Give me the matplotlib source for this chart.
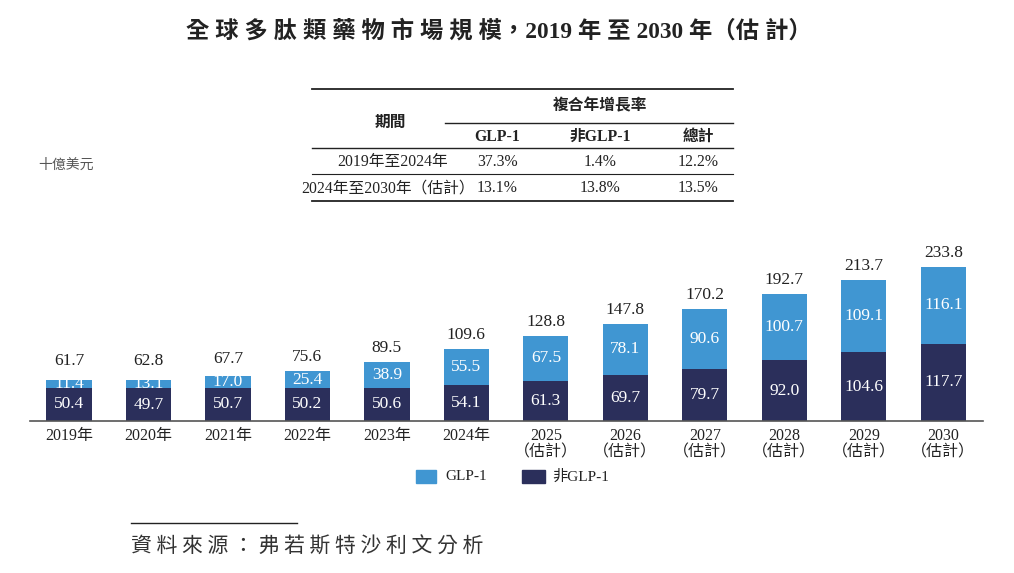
import matplotlib
matplotlib.use("Agg")
import matplotlib.pyplot as plt
from matplotlib.patches import Rectangle
from matplotlib.lines import Line2D
from matplotlib.transforms import offset_copy

years = ["2019年", "2020年", "2021年", "2022年", "2023年", "2024年",
         "2025\n（估計）", "2026\n（估計）", "2027\n（估計）", "2028\n（估計）",
         "2029\n（估計）", "2030\n（估計）"]
non_glp1 = [50.4, 49.7, 50.7, 50.2, 50.6, 54.1, 61.3, 69.7, 79.7, 92.0, 104.6, 117.7]
glp1 = [11.4, 13.1, 17.0, 25.4, 38.9, 55.5, 67.5, 78.1, 90.6, 100.7, 109.1, 116.1]
totals = [61.7, 62.8, 67.7, 75.6, 89.5, 109.6, 128.8, 147.8, 170.2, 192.7, 213.7, 233.8]

table_rows = ["2019年至2024年", "2024年至2030年（估計）"]
table_cols = ["GLP-1", "非GLP-1", "總計"]
table_vals = [["37.3%", "1.4%", "12.2%"], ["13.1%", "13.8%", "13.5%"]]

C_GLP = "#4096d2"
C_NON = "#2b2f5b"
SERIF = ["Liberation Serif", "Noto Sans CJK TC"]
CJK = ["Noto Sans CJK TC", "DejaVu Sans"]

W, H = 1014, 573
fig = plt.figure(figsize=(W / 100, H / 100), dpi=100)

def fx(px):
    return px / W

def fy(py):
    return 1 - py / H

ax_left, ax_right = 30, 983
ax_bottom, ax_top = 421, 263
ax = fig.add_axes([fx(ax_left), fy(ax_bottom), fx(ax_right - ax_left), (ax_bottom - ax_top) / H])
x = list(range(len(years)))
bw = 0.57
ax.bar(x, non_glp1, bw, color=C_NON, label="非GLP-1")
ax.bar(x, glp1, bw, bottom=non_glp1, color=C_GLP, label="GLP-1")
ax.set_xlim(-0.49, 11.5)
ax.set_ylim(0, 240)
for s in ["top", "right", "left"]:
    ax.spines[s].set_visible(False)
ax.spines["bottom"].set_color("#555555")
ax.spines["bottom"].set_linewidth(1.2)
ax.set_yticks([])
ax.set_xticks(x)
ax.set_xticklabels(years, family=SERIF, fontsize=11.5, color="#222222", linespacing=1.05)
ax.tick_params(axis="x", length=0, pad=5)

px_per_unit = (ax_bottom - ax_top) / 240.0
for i in range(len(x)):
    ax.text(i, non_glp1[i] / 2, f"{non_glp1[i]:.1f}", ha="center", va="center",
            color="white", family=SERIF, fontsize=12.5)
    ax.text(i, non_glp1[i] + glp1[i] / 2, f"{glp1[i]:.1f}", ha="center", va="center",
            color="white", family=SERIF, fontsize=12.5)
    gap_px = max(6.0, 15.0 - glp1[i] * px_per_unit / 2)
    tr = offset_copy(ax.transData, fig=fig, x=0, y=gap_px * 72 / 100, units="points")
    ax.text(i, totals[i], f"{totals[i]:.1f}", ha="center", va="bottom",
            color="#222222", family=SERIF, fontsize=12.5, transform=tr)

# Title
fig.text(fx(499), fy(31), "全 球 多 肽 類 藥 物 市 場 規 模，2019 年 至 2030 年（估 計）",
         ha="center", va="center", family=SERIF, fontsize=16.8, fontweight="bold", color="#222222")

# Unit
fig.text(fx(38), fy(165), "十億美元", ha="left", va="center", family=CJK, fontsize=10,
         style="italic", color="#555555")

# Table lines
def hline(y, x0, x1, lw):
    fig.add_artist(Line2D([fx(x0), fx(x1)], [fy(y), fy(y)], color="#222222", lw=lw))

hline(89, 312, 733, 1.3)
hline(122.5, 445, 733, 1.0)
hline(148, 312, 733, 1.0)
hline(174, 312, 733, 0.8)
hline(200.5, 312, 733, 1.3)

fig.text(fx(600), fy(105), "複合年增長率", ha="center", va="center", family=CJK,
         fontsize=11.3, fontweight="bold", color="#222222")
fig.text(fx(390), fy(122), "期間", ha="center", va="center", family=CJK,
         fontsize=11.3, fontweight="bold", color="#222222")
col_x = [497, 600, 698]
for cx, c in zip(col_x, table_cols):
    fig.text(fx(cx), fy(137), c, ha="center", va="center", family=SERIF,
             fontsize=11.3, fontweight="bold", color="#222222")
row_y = [162, 188]
row_x = [393, 388]
for ry, rx, lab, vals in zip(row_y, row_x, table_rows, table_vals):
    fig.text(fx(rx), fy(ry), lab, ha="center", va="center", family=SERIF,
             fontsize=11.3, color="#222222")
    for cx, v in zip(col_x, vals):
        fig.text(fx(cx), fy(ry), v, ha="center", va="center", family=SERIF,
                 fontsize=11.3, color="#222222")

# Legend
fig.add_artist(Rectangle((fx(416), fy(483)), fx(20), 13 / H, color=C_GLP, transform=fig.transFigure))
fig.text(fx(445), fy(477), "GLP-1", ha="left", va="center", family=SERIF, fontsize=11, color="#222222")
fig.add_artist(Rectangle((fx(522), fy(483)), fx(23), 13 / H, color=C_NON, transform=fig.transFigure))
fig.text(fx(552), fy(477), "非GLP-1", ha="left", va="center", family=SERIF, fontsize=11, color="#222222")

# Source
hline(523, 131, 297, 1.0)
fig.text(fx(131), fy(547), "資 料 來 源 ： 弗 若 斯 特 沙 利 文 分 析", ha="left", va="center",
         family=CJK, fontsize=15, style="italic", color="#333333")

fig.savefig("out.png", dpi=100)
